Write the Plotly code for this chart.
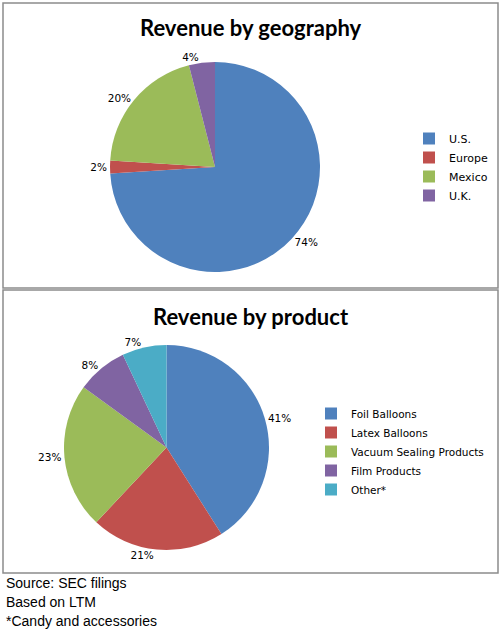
import plotly.graph_objects as go

# === Data ===
geo_labels = ["U.S.", "Europe", "Mexico", "U.K."]
geo_values = [74, 2, 20, 4]

prod_labels = ["Foil Balloons", "Latex Balloons", "Vacuum Sealing Products", "Film Products", "Other*"]
prod_values = [41, 21, 23, 8, 7]

notes = ["Source: SEC filings", "Based on LTM", "*Candy and accessories"]

colors = ["#4F81BD", "#C0504D", "#9BBB59", "#8064A2", "#4BACC6"]

W, H = 501, 631


def px_x(x):
    return x / W


def px_y(y):
    return 1 - y / H


fig = go.Figure()

# === Pie: geography ===
fig.add_trace(go.Pie(
    labels=geo_labels,
    values=geo_values,
    text=[f"{v}%" for v in geo_values],
    textinfo="text",
    textposition="outside",
    sort=False,
    direction="clockwise",
    rotation=0,
    marker=dict(colors=colors[:4], line=dict(width=0)),
    domain=dict(x=[px_x(65), px_x(365)], y=[px_y(272), px_y(62)]),
    textfont=dict(family="DejaVu Sans", size=10.5, color="#000000"),
    legend="legend",
    hoverinfo="label+percent",
))

# === Pie: product ===
fig.add_trace(go.Pie(
    labels=prod_labels,
    values=prod_values,
    text=[f"{v}%" for v in prod_values],
    textinfo="text",
    textposition="outside",
    sort=False,
    direction="clockwise",
    rotation=0,
    marker=dict(colors=colors, line=dict(width=0)),
    domain=dict(x=[px_x(15), px_x(318)], y=[px_y(550), px_y(345)]),
    textfont=dict(family="DejaVu Sans", size=10.5, color="#000000"),
    legend="legend2",
    hoverinfo="label+percent",
))

# === Boxes ===
for y0, y1 in [(3, 288), (290, 573)]:
    fig.add_shape(type="rect", xref="paper", yref="paper",
                  x0=px_x(3), x1=px_x(498), y0=px_y(y1), y1=px_y(y0),
                  line=dict(color="#8C8C8C", width=1.5), fillcolor="rgba(0,0,0,0)")

# === Titles ===
for txt, y in [("Revenue by geography", 28), ("Revenue by product", 316)]:
    fig.add_annotation(text=f"<b>{txt}</b>", xref="paper", yref="paper",
                       x=px_x(251), y=px_y(y), showarrow=False,
                       xanchor="center", yanchor="middle",
                       font=dict(family="Lato", size=22, color="#000000"))

# === Notes ===
for i, txt in enumerate(notes):
    fig.add_annotation(text=txt, xref="paper", yref="paper",
                       x=px_x(4), y=px_y(583 + i * 19), showarrow=False,
                       xanchor="left", yanchor="middle",
                       font=dict(family="Liberation Sans", size=14, color="#000000"))

fig.update_layout(
    width=W,
    height=H,
    margin=dict(l=0, r=0, t=0, b=0, autoexpand=False),
    paper_bgcolor="white",
    plot_bgcolor="white",
    legend=dict(x=px_x(409), y=px_y(124), xanchor="left", yanchor="top",
                font=dict(family="DejaVu Sans", size=11, color="#000000"),
                tracegroupgap=0, itemwidth=30),
    legend2=dict(x=px_x(311), y=px_y(399), xanchor="left", yanchor="top",
                 font=dict(family="DejaVu Sans", size=10.5, color="#000000"),
                 tracegroupgap=0, itemwidth=30),
)

fig.write_html("out.html", config={"displayModeBar": False},
               post_script="document.body.style.margin='0';")
